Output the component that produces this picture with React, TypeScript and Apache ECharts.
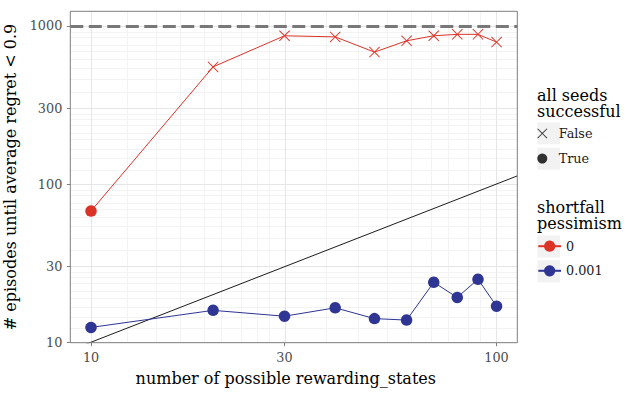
import React, { useEffect, useRef } from 'react';
import * as echarts from 'echarts';

// ---- data ----
const rewardingStates = [10, 20, 30, 40, 50, 60, 70, 80, 90, 100];
const episodesPessimism0 = [67.5, 550, 865, 851, 682, 804, 865, 883, 883, 789];
const allSeedsPessimism0 = [true, false, false, false, false, false, false, false, false, false];
const episodesPessimism0001 = [12.4, 15.9, 14.6, 16.5, 14.1, 13.8, 23.9, 19.2, 25.0, 16.9];
const allSeedsPessimism0001 = [true, true, true, true, true, true, true, true, true, true];
const pessimismNames = ['0', '0.001'];
const successNames = ['False', 'True'];
const xTicks = [10, 30, 100];
const yTicks = [10, 30, 100, 300, 1000];
const xLimits = [8.89, 112.5];
const yLimits = [9.93, 1235];
const episodeBudget = 1000;

const FONT = "'DejaVu Serif', 'Liberation Serif', serif";
const RED = '#dc3327';
const BLUE = '#2e3592';
const X_PATH = 'path://M0,6L6,0L50,44L94,0L100,6L56,50L100,94L94,100L50,56L6,100L0,94L44,50Z';

const lg = (v: number) => Math.log10(v);

function minorBreaks(ticks: number[]) {
  const out: number[] = [];
  for (let i = 0; i < ticks.length - 1; i++) {
    const a = ticks[i];
    const b = ticks[i + 1];
    for (let k = 1; k < 9; k++) out.push(a + ((b - a) * k) / 9);
  }
  return out;
}

function buildOption() {
  const majorStyle = { color: '#e6e6e6', width: 1, type: 'solid' };
  const minorStyle = { color: '#f3f3f3', width: 1, type: 'solid' };
  const gridLines: any[] = [];
  minorBreaks(xTicks).forEach((v) => gridLines.push({ xAxis: lg(v), lineStyle: minorStyle }));
  minorBreaks(yTicks).forEach((v) => gridLines.push({ yAxis: lg(v), lineStyle: minorStyle }));
  xTicks.forEach((v) => gridLines.push({ xAxis: lg(v), lineStyle: majorStyle }));
  yTicks.forEach((v) => gridLines.push({ yAxis: lg(v), lineStyle: majorStyle }));

  const makeData = (ys: number[], seeds: boolean[]) =>
    rewardingStates.map((x, i) => ({
      value: [lg(x), lg(ys[i])],
      symbol: seeds[i] ? 'circle' : X_PATH,
      symbolSize: seeds[i] ? 11.5 : 11,
    }));

  const labelFmt = (v: number) => String(Math.round(Math.pow(10, v)));

  const legendCommon = {
    orient: 'vertical',
    padding: 0,
    left: 537.3,
    itemWidth: 22.7,
    selectedMode: false,
    textStyle: { fontFamily: FONT, fontSize: 12.8, color: '#1a1a1a' },
  };

  const keyBox = (y: number) => ({
    type: 'rect',
    z: 1,
    silent: true,
    shape: { x: 537.3, y, width: 22.7, height: 22 },
    style: { fill: '#f2f2f2' },
  });

  const titleStyle = { fontFamily: FONT, fontSize: 16, fontWeight: 'normal', color: '#000', lineHeight: 16 };

  return {
    animation: false,
    backgroundColor: '#ffffff',
    textStyle: { fontFamily: FONT },
    grid: {
      left: 70.3,
      top: 11.3,
      width: 447,
      height: 331.4,
      show: true,
      z: 3,
      backgroundColor: 'transparent',
      borderColor: '#7f7f7f',
      borderWidth: 1,
      outerBoundsMode: 'none',
      containLabel: false,
    },
    xAxis: {
      type: 'value',
      min: lg(xLimits[0]),
      max: lg(xLimits[1]),
      axisLine: { show: false },
      splitLine: { show: false },
      axisTick: { show: true, length: 3.5, customValues: xTicks.map(lg), lineStyle: { color: '#7f7f7f' } },
      axisLabel: {
        customValues: xTicks.map(lg),
        formatter: labelFmt,
        color: '#4d4d4d',
        fontFamily: FONT,
        fontSize: 12.8,
        margin: 8,
      },
      name: 'number of possible rewarding_states',
      nameLocation: 'middle',
      nameGap: 28,
      nameTextStyle: { fontFamily: FONT, fontSize: 16, color: '#000', padding: [0, 16, 0, 0] },
    },
    yAxis: {
      type: 'value',
      min: lg(yLimits[0]),
      max: lg(yLimits[1]),
      axisLine: { show: false },
      splitLine: { show: false },
      axisTick: { show: true, length: 3.5, customValues: yTicks.map(lg), lineStyle: { color: '#7f7f7f' } },
      axisLabel: {
        customValues: yTicks.map(lg),
        formatter: labelFmt,
        color: '#4d4d4d',
        fontFamily: FONT,
        fontSize: 12.8,
        margin: 8,
      },
      name: '# episodes until average regret < 0.9',
      nameLocation: 'middle',
      nameGap: 45,
      nameTextStyle: { fontFamily: FONT, fontSize: 16, color: '#000' },
    },
    title: [
      { text: 'all seeds\nsuccessful', left: 537, top: 87, padding: 0, textStyle: titleStyle },
      { text: 'shortfall\npessimism', left: 537, top: 199, padding: 0, textStyle: titleStyle },
    ],
    legend: [
      { ...legendCommon, data: [successNames[0]], top: 126.9, itemHeight: 10 },
      { ...legendCommon, data: [successNames[1]], top: 152.1, itemHeight: 10 },
      { ...legendCommon, data: [pessimismNames[0]], top: 239.7, itemHeight: 14 },
      { ...legendCommon, data: [pessimismNames[1]], top: 264.3, itemHeight: 14 },
    ],
    graphic: [keyBox(122.3), keyBox(147.7), keyBox(235.5), keyBox(260.3)],
    series: [
      {
        name: 'y = x',
        type: 'line',
        silent: true,
        symbol: 'none',
        clip: true,
        z: 2,
        data: [
          [lg(xLimits[0]), lg(xLimits[0])],
          [lg(xLimits[1]), lg(xLimits[1])],
        ],
        lineStyle: { color: '#000', width: 0.9 },
        markLine: {
          silent: true,
          z: 1,
          symbol: ['none', 'none'],
          label: { show: false },
          emphasis: { disabled: true },
          data: gridLines,
        },
      },
      {
        name: pessimismNames[0],
        type: 'line',
        silent: true,
        z: 3,
        symbol: 'circle',
        symbolSize: 11.5,
        itemStyle: { color: RED },
        lineStyle: { color: RED, width: 1 },
        data: makeData(episodesPessimism0, allSeedsPessimism0),
        markLine: {
          silent: true,
          z: 4,
          symbol: ['none', 'none'],
          label: { show: false },
          emphasis: { disabled: true },
          data: [{ yAxis: lg(episodeBudget), lineStyle: { color: '#787878', width: 3, type: [13, 5.5] } }],
        },
      },
      {
        name: pessimismNames[1],
        type: 'line',
        silent: true,
        z: 3,
        symbol: 'circle',
        symbolSize: 11.5,
        itemStyle: { color: BLUE },
        lineStyle: { color: BLUE, width: 1 },
        data: makeData(episodesPessimism0001, allSeedsPessimism0001),
      },
      {
        name: successNames[0],
        type: 'scatter',
        silent: true,
        symbol: X_PATH,
        symbolSize: 10,
        itemStyle: { color: '#000' },
        data: [],
      },
      {
        name: successNames[1],
        type: 'scatter',
        silent: true,
        symbol: 'circle',
        symbolSize: 10,
        itemStyle: { color: '#000' },
        data: [],
      },
    ],
  };
}

export default function App() {
  const ref = useRef<HTMLDivElement>(null);
  useEffect(() => {
    document.body.style.margin = '0';
    if (!ref.current) return;
    const chart = echarts.init(ref.current, null, { renderer: 'svg' });
    chart.setOption(buildOption() as any);
    return () => chart.dispose();
  }, []);
  return <div ref={ref} style={{ width: 642, height: 394 }} />;
}
